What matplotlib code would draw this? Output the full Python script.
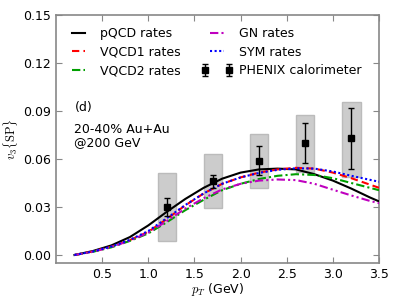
import numpy as np
import matplotlib
matplotlib.use('Agg')
import matplotlib.pyplot as plt
from matplotlib.container import ErrorbarContainer
from matplotlib.legend_handler import HandlerErrorbar

# model curves, v3{SP} vs pT
pt = [0.2, 0.4, 0.6, 0.8, 1.0, 1.2, 1.4, 1.6, 1.8, 2.0, 2.2, 2.4, 2.6, 2.8, 3.0, 3.2, 3.4, 3.5]
pqcd = [0.0, 0.0025, 0.0060, 0.0112, 0.0185, 0.0270, 0.0350, 0.0420, 0.0477, 0.0515,
        0.0535, 0.0540, 0.0535, 0.0505, 0.0465, 0.0415, 0.0360, 0.0335]
vqcd1 = [0.0, 0.0022, 0.0052, 0.0093, 0.0145, 0.0225, 0.0310, 0.0385, 0.0445, 0.0485,
         0.0515, 0.0535, 0.0545, 0.0540, 0.0515, 0.0480, 0.0440, 0.0420]
vqcd2 = [0.0, 0.0020, 0.0048, 0.0088, 0.0135, 0.0205, 0.0280, 0.0345, 0.0405, 0.0445,
         0.0475, 0.0495, 0.0505, 0.0500, 0.0480, 0.0450, 0.0420, 0.0405]
gn = [0.0, 0.0021, 0.0050, 0.0090, 0.0140, 0.0212, 0.0290, 0.0355, 0.0410, 0.0445,
      0.0465, 0.0472, 0.0468, 0.0445, 0.0408, 0.0372, 0.0338, 0.0324]
sym = [0.0, 0.0022, 0.0053, 0.0095, 0.0150, 0.0230, 0.0312, 0.0385, 0.0445, 0.0485,
       0.0513, 0.0532, 0.0542, 0.0540, 0.0522, 0.0495, 0.0470, 0.0458]

# PHENIX calorimeter data
phx_pt = [1.2, 1.7, 2.2, 2.7, 3.2]
phx_v3 = [0.030, 0.046, 0.059, 0.070, 0.073]
phx_stat = [0.0056, 0.004, 0.009, 0.0128, 0.019]
phx_sys_lo = [0.0087, 0.0296, 0.0417, 0.052, 0.049]
phx_sys_hi = [0.051, 0.063, 0.0756, 0.0875, 0.0958]

plt.rcParams['mathtext.fontset'] = 'cm'
plt.rcParams['font.size'] = 9

fig = plt.figure(figsize=(3.99, 2.99), dpi=100)
ax = fig.add_axes([0.1404, 0.1204, 0.8096, 0.8294])

lo = np.array(phx_sys_lo)
hi = np.array(phx_sys_hi)
ax.bar(phx_pt, hi - lo, bottom=lo, width=0.2, color='#cccccc', edgecolor='#bbbbbb',
       linewidth=1.0, zorder=1)

lw = 1.5
ax.plot(pt, pqcd, color='black', lw=lw, ls='-', label='pQCD rates', zorder=3)
ax.plot(pt, vqcd1, color='#ff0000', lw=lw, ls=(0, (3.5, 2)), label='VQCD1 rates', zorder=3)
ax.plot(pt, vqcd2, color='#00a000', lw=lw, ls=(0, (4, 1.5, 1, 1.5)), label='VQCD2 rates', zorder=3)
ax.plot(pt, gn, color='#bf00bf', lw=lw, ls=(0, (4, 1.5, 1, 1.5, 1, 1.5)), label='GN rates', zorder=3)
ax.plot(pt, sym, color='#0000ff', lw=lw, ls=(0, (1, 1.2)), label='SYM rates', zorder=3)
ax.errorbar(phx_pt, phx_v3, yerr=phx_stat, fmt='s', color='black', ms=5,
            elinewidth=1, capsize=2, capthick=1, label='PHENIX calorimeter', zorder=4)

ax.set_xlim(0, 3.5)
ax.set_ylim(-0.005, 0.15)
ax.set_xticks([0.5, 1.0, 1.5, 2.0, 2.5, 3.0, 3.5])
ax.set_xticklabels(['0.5', '1.0', '1.5', '2.0', '2.5', '3.0', '3.5'])
ax.set_yticks([0.0, 0.03, 0.06, 0.09, 0.12, 0.15])
ax.set_yticklabels(['0.00', '0.03', '0.06', '0.09', '0.12', '0.15'])
ax.tick_params(direction='in', top=True, right=True, length=4, color='#888888', labelsize=9)
for s in ax.spines.values():
    s.set_color('#888888')
    s.set_linewidth(1.2)

ax.set_xlabel('$p_T$ (GeV)', fontsize=9, labelpad=0)
ax.set_ylabel(r'$v_3\{\mathrm{SP}\}$', fontsize=9, labelpad=2)

ax.text(0.2, 0.0925, '(d)', fontsize=9, va='center')
ax.text(0.2, 0.0745, '20-40% Au+Au\n@200 GeV', fontsize=9, va='center', linespacing=1.0)

ax.legend(loc='upper left', ncol=2, frameon=False, numpoints=2, fontsize=9,
          handlelength=1.7, handletextpad=0.9, labelspacing=0.45, columnspacing=2.0,
          borderaxespad=0.55, bbox_to_anchor=(0.0, 1.0),
          handler_map={ErrorbarContainer: HandlerErrorbar(marker_pad=-0.1, numpoints=2)})

fig.savefig('out.png', dpi=100)
